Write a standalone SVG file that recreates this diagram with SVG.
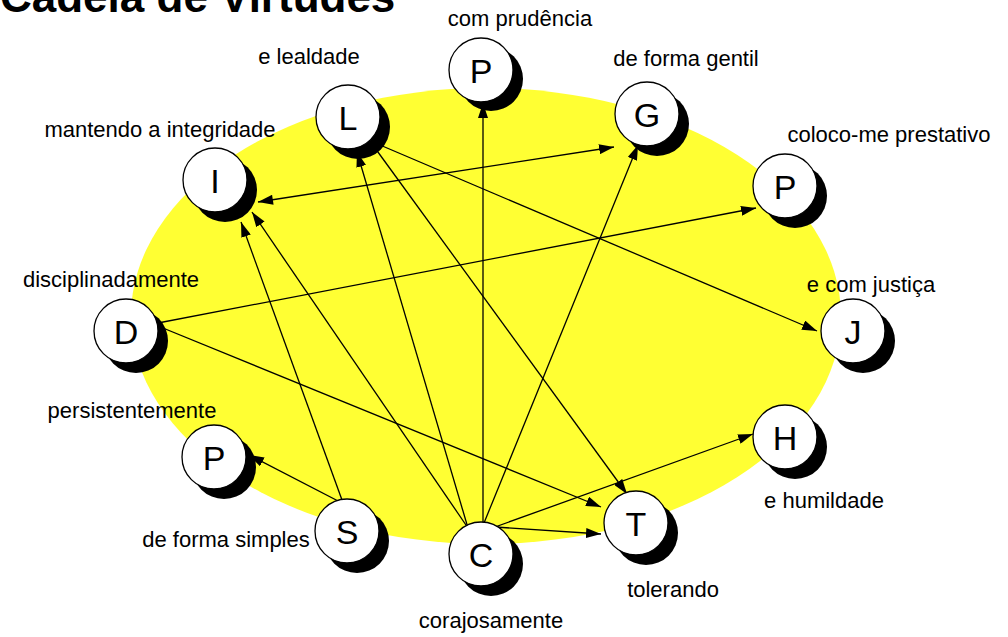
<svg xmlns="http://www.w3.org/2000/svg" width="1008" height="637" viewBox="0 0 1008 637">
<style>
.lbl{font-family:"Liberation Sans",Arial,sans-serif;font-size:22px;fill:#000;text-anchor:middle}
.ltr{font-family:"Liberation Sans",Arial,sans-serif;font-size:34px;fill:#000;text-anchor:middle}
.ttl{font-family:"Liberation Sans",Arial,sans-serif;font-size:44px;font-weight:bold;fill:#000}
.sh{fill:#000}
.cc{fill:#fff;stroke:#000;stroke-width:1.3}
.ln{stroke:#000;stroke-width:1.3;fill:none;marker-end:url(#ah)}
</style>
<defs>
<marker id="ah" markerUnits="userSpaceOnUse" markerWidth="16" markerHeight="10" refX="15" refY="5" orient="auto">
<path d="M0,0 L15,5 L0,10 z" fill="#000"/>
</marker>
<marker id="ahs" markerUnits="userSpaceOnUse" markerWidth="16" markerHeight="10" refX="0" refY="5" orient="auto">
<path d="M15,0 L0,5 L15,10 z" fill="#000"/>
</marker>
</defs>
<rect width="1008" height="637" fill="#fff"/>
<ellipse cx="486" cy="316" rx="355" ry="228" fill="#ffff33"/>
<text class="ttl" x="0" y="12">Cadeia de Virtudes</text>
<g id="connectors">
<line class="ln" x1="258" y1="202" x2="614" y2="147" marker-start="url(#ahs)"/>
<line class="ln" x1="158" y1="323" x2="756" y2="208"/>
<line class="ln" x1="158" y1="326" x2="601" y2="507"/>
<line class="ln" x1="380" y1="145" x2="817" y2="331"/>
<line class="ln" x1="375" y1="148" x2="627" y2="494"/>
<line class="ln" x1="468" y1="528" x2="357" y2="152"/>
<line class="ln" x1="468" y1="528" x2="252" y2="212"/>
<line class="ln" x1="342" y1="500" x2="241" y2="222"/>
<line class="ln" x1="342" y1="503" x2="249" y2="455"/>
<line class="ln" x1="483" y1="523" x2="483" y2="103"/>
<line class="ln" x1="484" y1="523" x2="638" y2="145"/>
<line class="ln" x1="495" y1="527" x2="753" y2="434"/>
<line class="ln" x1="495" y1="527" x2="601" y2="534"/>
</g>
<g id="node-P-top"><circle class="sh" cx="491" cy="79" r="32"/><circle class="cc" cx="481" cy="70" r="32"/><text class="ltr" x="481" y="83">P</text><text class="lbl" x="520" y="26">com prudência</text></g>
<g id="node-L"><circle class="sh" cx="358" cy="127" r="32"/><circle class="cc" cx="348" cy="117" r="32"/><text class="ltr" x="348" y="130">L</text><text class="lbl" x="309" y="64">e lealdade</text></g>
<g id="node-G"><circle class="sh" cx="657" cy="124" r="32"/><circle class="cc" cx="647" cy="114" r="32"/><text class="ltr" x="647" y="127">G</text><text class="lbl" x="686" y="66">de forma gentil</text></g>
<g id="node-I"><circle class="sh" cx="225" cy="190" r="32"/><circle class="cc" cx="215" cy="180" r="32"/><text class="ltr" x="215" y="193">I</text><text class="lbl" x="160" y="137">mantendo a integridade</text></g>
<g id="node-P-right"><circle class="sh" cx="795" cy="196" r="32"/><circle class="cc" cx="785" cy="186" r="32"/><text class="ltr" x="785" y="199">P</text><text class="lbl" x="889" y="142">coloco-me prestativo</text></g>
<g id="node-D"><circle class="sh" cx="136" cy="341" r="32"/><circle class="cc" cx="126" cy="331" r="32"/><text class="ltr" x="126" y="344">D</text><text class="lbl" x="111" y="287">disciplinadamente</text></g>
<g id="node-J"><circle class="sh" cx="863" cy="341" r="32"/><circle class="cc" cx="853" cy="331" r="32"/><text class="ltr" x="853" y="344">J</text><text class="lbl" x="871" y="292">e com justiça</text></g>
<g id="node-P-left"><circle class="sh" cx="224" cy="467" r="32"/><circle class="cc" cx="214" cy="457" r="32"/><text class="ltr" x="214" y="470">P</text><text class="lbl" x="132" y="418">persistentemente</text></g>
<g id="node-H"><circle class="sh" cx="795" cy="447" r="32"/><circle class="cc" cx="785" cy="437" r="32"/><text class="ltr" x="785" y="450">H</text><text class="lbl" x="824" y="508">e humildade</text></g>
<g id="node-S"><circle class="sh" cx="357" cy="541" r="32"/><circle class="cc" cx="347" cy="531" r="32"/><text class="ltr" x="347" y="544">S</text><text class="lbl" x="226" y="547">de forma simples</text></g>
<g id="node-C"><circle class="sh" cx="491" cy="564" r="32"/><circle class="cc" cx="481" cy="554" r="32"/><text class="ltr" x="481" y="567">C</text><text class="lbl" x="491" y="628">corajosamente</text></g>
<g id="node-T"><circle class="sh" cx="646" cy="533" r="32"/><circle class="cc" cx="636" cy="523" r="32"/><text class="ltr" x="636" y="536">T</text><text class="lbl" x="673" y="597">tolerando</text></g>
</svg>
